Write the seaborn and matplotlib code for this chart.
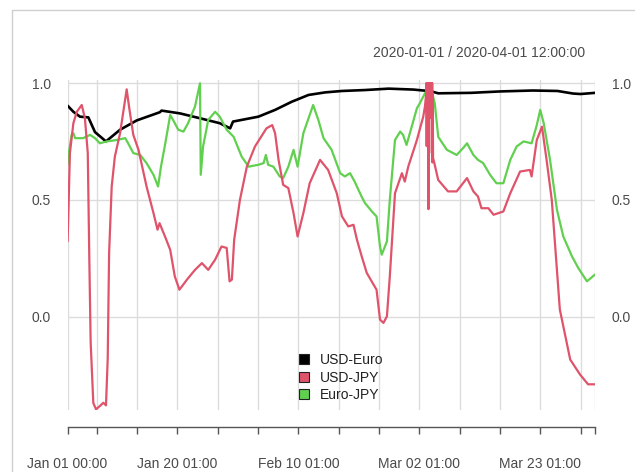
import matplotlib
matplotlib.use("Agg")
import matplotlib.pyplot as plt
from matplotlib.lines import Line2D
import seaborn as sns
import pandas as pd

# ---------------- data (x = days since 2020-01-01 00:00) ----------------
usd_euro_x = [0, 1.0, 2.15, 3.6, 4.75, 6.66, 9.1, 12, 16, 16.3, 19.5, 23, 26.4, 28.2, 28.7,
              30.8, 33.1, 36, 38.9, 41.8, 44.7, 47.6, 51.6, 55.7, 60, 63, 64.3, 70, 75,
              80.7, 85, 87.7, 89, 91.5]
usd_euro_y = [0.903, 0.877, 0.856, 0.853, 0.79, 0.75, 0.80, 0.84, 0.875, 0.882, 0.87, 0.849,
              0.828, 0.806, 0.835, 0.845, 0.856, 0.885, 0.92, 0.949, 0.96, 0.966, 0.97, 0.976,
              0.972, 0.965, 0.956, 0.958, 0.964, 0.968, 0.966, 0.955, 0.953, 0.958]

usd_jpy_x = [0, 0.12, 0.4, 1.0, 1.6, 2.45, 3.0, 3.5, 3.77, 4.0,
             4.46, 4.93, 5.6, 6.2, 6.66, 6.96, 7.2, 7.65, 8.2, 9.1,
             9.8, 10.25, 10.7, 11.4, 12.3, 13.7, 14.9, 15.6, 15.95, 16.9,
             17.8, 18.6, 19.4, 20.7, 22.1, 23.3, 24.4, 25.6, 26.7, 27.6,
             28.1, 28.5, 28.9, 29.9, 31.1, 32.5, 34.5, 35.5, 36.0, 36.6,
             37.4, 38.3, 39.2, 39.9, 40.9, 42.0, 43.8, 45.2, 46.7, 47.6,
             48.7, 49.6, 50.2, 51.0, 51.9, 53.6, 54.2, 54.8, 55.4, 55.9,
             56.8, 58.0, 58.5, 59.1, 60.6, 61.7, 62.0,
             62.20, 62.25, 62.30, 62.35, 62.40, 62.45, 62.50, 62.55, 62.60, 62.65,
             62.70, 62.75, 62.80, 62.85, 62.90, 62.95, 63.00, 63.05, 63.10, 63.15,
             63.20, 63.25, 63.30, 63.35, 63.40,
             63.6, 64.3, 66.0, 67.5, 68.6, 69.3, 70.4, 71.2, 71.8, 73.0,
             73.9, 75.6, 76.8, 78.5, 80.2, 80.5, 81.4, 82.3, 83.1, 84.0,
             85.4, 87.2, 88.9, 90.3, 91.5]
usd_jpy_y = [0.322, 0.43, 0.70, 0.828, 0.877, 0.906, 0.85, 0.70, 0.244, -0.11,
             -0.37, -0.397, -0.383, -0.369, -0.38, -0.18, 0.27, 0.557, 0.685, 0.785,
             0.899, 0.973, 0.892, 0.778, 0.714, 0.557, 0.443, 0.372, 0.40, 0.343,
             0.286, 0.172, 0.115, 0.158, 0.20, 0.229, 0.20, 0.244, 0.30, 0.294,
             0.151, 0.158, 0.329, 0.50, 0.642, 0.728, 0.806, 0.82, 0.785, 0.671,
             0.564, 0.55, 0.443, 0.343, 0.443, 0.571, 0.671, 0.628, 0.528, 0.429,
             0.386, 0.393, 0.329, 0.26, 0.187, 0.115, -0.013, -0.027, 0.001, 0.172,
             0.528, 0.614, 0.578, 0.642, 0.756, 0.856, 0.90,
             0.95, 1.0, 0.73, 1.0, 0.80, 1.0, 0.85, 1.0, 0.46, 1.0,
             0.90, 1.0, 0.92, 1.0, 0.93, 1.0, 0.90, 1.0, 0.85, 1.0,
             0.70, 1.0, 0.66, 0.95, 0.68,
             0.66, 0.585, 0.536, 0.536, 0.571, 0.593, 0.536, 0.514, 0.464, 0.464,
             0.436, 0.45, 0.528, 0.621, 0.628, 0.60, 0.756, 0.813, 0.671, 0.50,
             0.03, -0.184, -0.248, -0.29, -0.29]

euro_jpy_x = [0, 0.3, 0.7, 1.0, 1.3, 2.7, 3.9, 4.75, 5.6, 6.8,
              8.5, 10.0, 10.5, 11.4, 12.6, 13.7, 14.9, 15.7, 16.2, 16.9,
              17.8, 18.3, 19.2, 20.1, 20.9, 22.1, 22.97, 23.1, 23.5, 24.4,
              25.6, 26.4, 27.6, 28.8, 30.2, 31.4, 33.1, 34.0, 34.4, 34.8,
              35.7, 36.8, 37.4, 38.3, 39.2, 39.9, 40.9, 42.6, 43.5, 44.4,
              45.8, 47.3, 48.1, 49.0, 49.8, 51.0, 51.6, 52.8, 53.6, 54.2,
              54.5, 55.4, 55.9, 56.8, 57.7, 58.2, 58.8, 59.7, 60.6, 61.1,
              62.0, 62.9, 63.7, 64.3, 65.8, 67.5, 68.6, 69.3, 70.4, 71.2,
              72.1, 73.3, 74.4, 75.6, 76.8, 77.9, 79.1, 80.5, 81.4, 82.0,
              82.6, 83.7, 84.9, 86.0, 87.5, 88.6, 90.1, 91.5]
euro_jpy_y = [0.65, 0.714, 0.778, 0.785, 0.764, 0.764, 0.778, 0.764, 0.742, 0.75,
              0.756, 0.764, 0.742, 0.70, 0.692, 0.657, 0.607, 0.557, 0.642, 0.735,
              0.863, 0.842, 0.80, 0.792, 0.828, 0.899, 0.999, 0.607, 0.728, 0.842,
              0.877, 0.856, 0.80, 0.77, 0.685, 0.642, 0.65, 0.657, 0.692, 0.65,
              0.642, 0.60, 0.593, 0.642, 0.714, 0.642, 0.785, 0.906, 0.842, 0.764,
              0.714, 0.614, 0.60, 0.614, 0.578, 0.514, 0.486, 0.45, 0.429, 0.30,
              0.265, 0.322, 0.50, 0.756, 0.792, 0.778, 0.735, 0.813, 0.892, 0.913,
              0.956, 0.991, 0.913, 0.77, 0.714, 0.692, 0.721, 0.742, 0.692, 0.671,
              0.657, 0.607, 0.571, 0.571, 0.671, 0.728, 0.75, 0.742, 0.82, 0.885,
              0.828, 0.671, 0.457, 0.343, 0.258, 0.208, 0.151, 0.18]

series_names = ["USD-Euro", "USD-JPY", "Euro-JPY"]
series_colors = ["#000000", "#DF536B", "#61D04F"]

tick_days = [0, 5.042, 12.042, 19.042, 26.042, 33.042, 40.042, 47.042, 54.042,
             61.042, 68.042, 75.042, 82.042, 89.042, 91.5]
label_days = [0, 19.042, 40.042, 61.042, 82.042]
label_texts = ["Jan 01 00:00", "Jan 20 01:00", "Feb 10 01:00", "Mar 02 01:00", "Mar 23 01:00"]
y_ticks = [0.0, 0.5, 1.0]
y_labels = ["0.0", "0.5", "1.0"]
title_text = "2020-01-01 / 2020-04-01 12:00:00"

# ---------------- styling ----------------
sns.set_style("white")
plt.rcParams["font.family"] = ["Liberation Sans", "DejaVu Sans"]
TXT = "#4a4a4a"

W, H = 635, 472
fig = plt.figure(figsize=(W / 100, H / 100), dpi=100)
ax = fig.add_axes([67.6 / W, 1 - 410 / H, (595 - 67.6) / W, (410 - 80) / H])

frames = [
    pd.DataFrame({"x": usd_euro_x, "y": usd_euro_y}),
    pd.DataFrame({"x": usd_jpy_x, "y": usd_jpy_y}),
    pd.DataFrame({"x": euro_jpy_x, "y": euro_jpy_y}),
]
widths = {0: 1.9, 1: 1.6, 2: 1.6}
for i in [0, 2, 1]:
    sns.lineplot(data=frames[i], x="x", y="y", ax=ax, color=series_colors[i],
                 linewidth=widths[i], estimator=None, sort=False, legend=False)

ax.set_xlim(0, 91.5)
ax.set_ylim(-0.40, 1.013)
ax.set_xlabel("")
ax.set_ylabel("")

for s in ["top", "left", "right"]:
    ax.spines[s].set_visible(False)
ax.spines["bottom"].set_position(("outward", 12.5))
ax.spines["bottom"].set_color("#555555")
ax.spines["bottom"].set_linewidth(1.0)

minor = [d for d in tick_days if d not in label_days]
ax.set_xticks(label_days)
ax.set_xticklabels(label_texts)
ax.set_xticks(minor, minor=True)
ax.tick_params(axis="x", which="both", bottom=True, direction="out", length=5, width=1.0,
               color="#555555", labelsize=10, labelcolor=TXT, pad=16)

ax.set_yticks(y_ticks)
ax.set_yticklabels(y_labels)
ax.tick_params(axis="y", length=0, labelsize=10, labelcolor=TXT, pad=12,
               labelleft=True, labelright=True)

ax.grid(False)
ax.grid(True, axis="x", which="both", color="#dcdcdc", linewidth=1.0)
ax.grid(True, axis="y", which="major", color="#dcdcdc", linewidth=1.0)
ax.set_axisbelow(True)

handles = [Line2D([0], [0], marker="s", linestyle="none", markersize=7,
                  markerfacecolor=c, markeredgecolor="#222222", markeredgewidth=0.8)
           for c in series_colors]
fig.legend(handles, series_names, loc="center left",
           bbox_to_anchor=(290 / W, 1 - 377.5 / H), frameon=False, borderpad=0,
           handlelength=1.0, handletextpad=0.65, labelspacing=0.25,
           prop={"size": 10}, labelcolor="#222222")

fig.text(585 / W, 1 - 53 / H, title_text, ha="right", va="center", fontsize=10, color=TXT)

fig.add_artist(Line2D([12 / W, 1], [1 - 9.5 / H, 1 - 9.5 / H], color="#cfcfcf", linewidth=1.0))
fig.add_artist(Line2D([12 / W, 12 / W], [0, 1 - 9.5 / H], color="#cfcfcf", linewidth=1.0))

fig.savefig("out.png", dpi=100)
